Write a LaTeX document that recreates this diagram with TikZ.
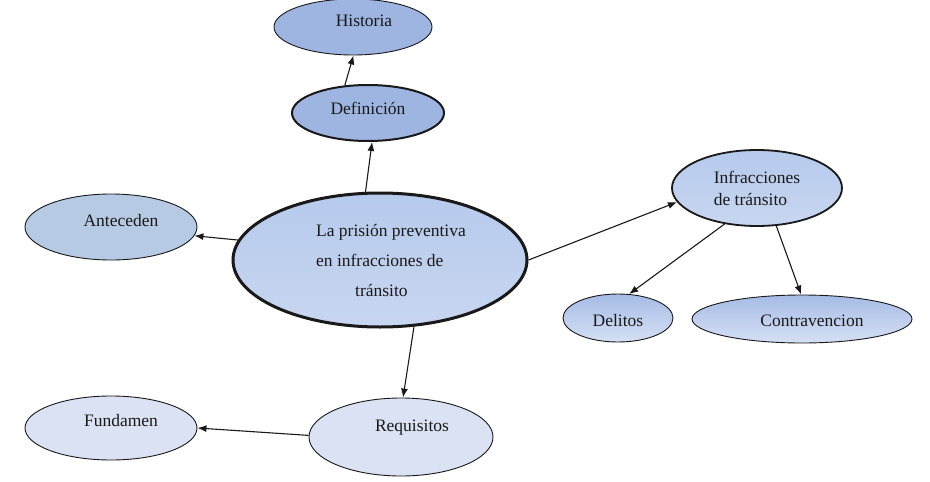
\documentclass[tikz,border=0pt]{standalone}
\usepackage{fontspec}
\setmainfont{Liberation Serif}
\usetikzlibrary{shapes.geometric,arrows.meta}
\definecolor{bluemid}{RGB}{158,181,226}
\definecolor{bluemain}{RGB}{182,202,236}
\definecolor{bluemainb}{RGB}{200,214,240}
\definecolor{blueante}{RGB}{182,202,228}
\definecolor{bluelt}{RGB}{218,226,243}
\definecolor{bluetop}{RGB}{166,188,230}
\definecolor{bluebot}{RGB}{214,224,244}
\definecolor{inkc}{RGB}{25,25,25}
\tikzset{
  bub/.style={ellipse, draw=inkc, inner sep=0pt, line width=0.9pt, text=inkc,
    font=\fontsize{17.5}{22}\selectfont, text height=12pt, text depth=0pt},
  conn/.style={draw=inkc, line width=1.1pt, -{Latex[length=9pt,width=7pt]}},
}
\begin{document}
\begin{tikzpicture}[x=1pt,y=-1pt]
\useasboundingbox (0,0) rectangle (930,482);
% nodes
\node[bub, fill=bluemid, minimum width=158pt, minimum height=56pt, text depth=14pt] (hist) at (353,27) {\hspace*{22pt}Historia};
\node[bub, fill=bluemid, line width=2pt, minimum width=152pt, minimum height=56pt, text depth=10pt] (def) at (368,113) {Definición};
\node[bub, top color=bluemain, bottom color=bluemainb, line width=3pt, minimum width=294pt, minimum height=134pt,
      align=left, font=\fontsize{17.5}{30}\selectfont, text height=, text depth=] (main) at (380,260)
  {\hspace*{22pt}La prisión preventiva\\\hspace*{22pt}en infracciones de\\\hspace*{61pt}tránsito};
\node[bub, fill=blueante, minimum width=172pt, minimum height=66pt, text depth=14pt] (ant) at (111,227) {\hspace*{20pt}Anteceden};
\node[bub, top color=bluemain, bottom color=bluemainb, line width=1.8pt, minimum width=170pt, minimum height=76pt,
      align=left, text height=, text depth=] (inf) at (757,188) {Infracciones\\de tránsito};
\node[bub, top color=bluetop, bottom color=bluebot, minimum width=110pt, minimum height=48pt, text height=16pt] (del) at (618,318) {Delitos};
\node[bub, top color=bluetop, bottom color=bluebot, minimum width=220pt, minimum height=48pt, text height=14pt] (con) at (802,319) {\hspace*{20pt}Contravencion};
\node[bub, fill=bluelt, minimum width=172pt, minimum height=64pt, text depth=16pt] (fun) at (111,428) {\hspace*{20pt}Fundamen};
\node[bub, fill=bluelt, minimum width=184pt, minimum height=78pt, text depth=24pt] (req) at (401,437) {\hspace*{22pt}Requisitos};
% connectors
\draw[conn] (main.102.6) -- (def.-82);
\draw[conn] (def.130) -- (hist.-89);
\draw[conn] (main.172.9) -- (ant.-6.3);
\draw[conn] (main.0.5) -- (inf.190);
\draw[conn] (inf.228.3) -- (del.65.6);
\draw[conn] (inf.-63.4) -- (con.92);
\draw[conn] (main.-63.8) -- (req.87);
\draw[conn] (req.179.4) -- (fun.-0.7);
\end{tikzpicture}
\end{document}
